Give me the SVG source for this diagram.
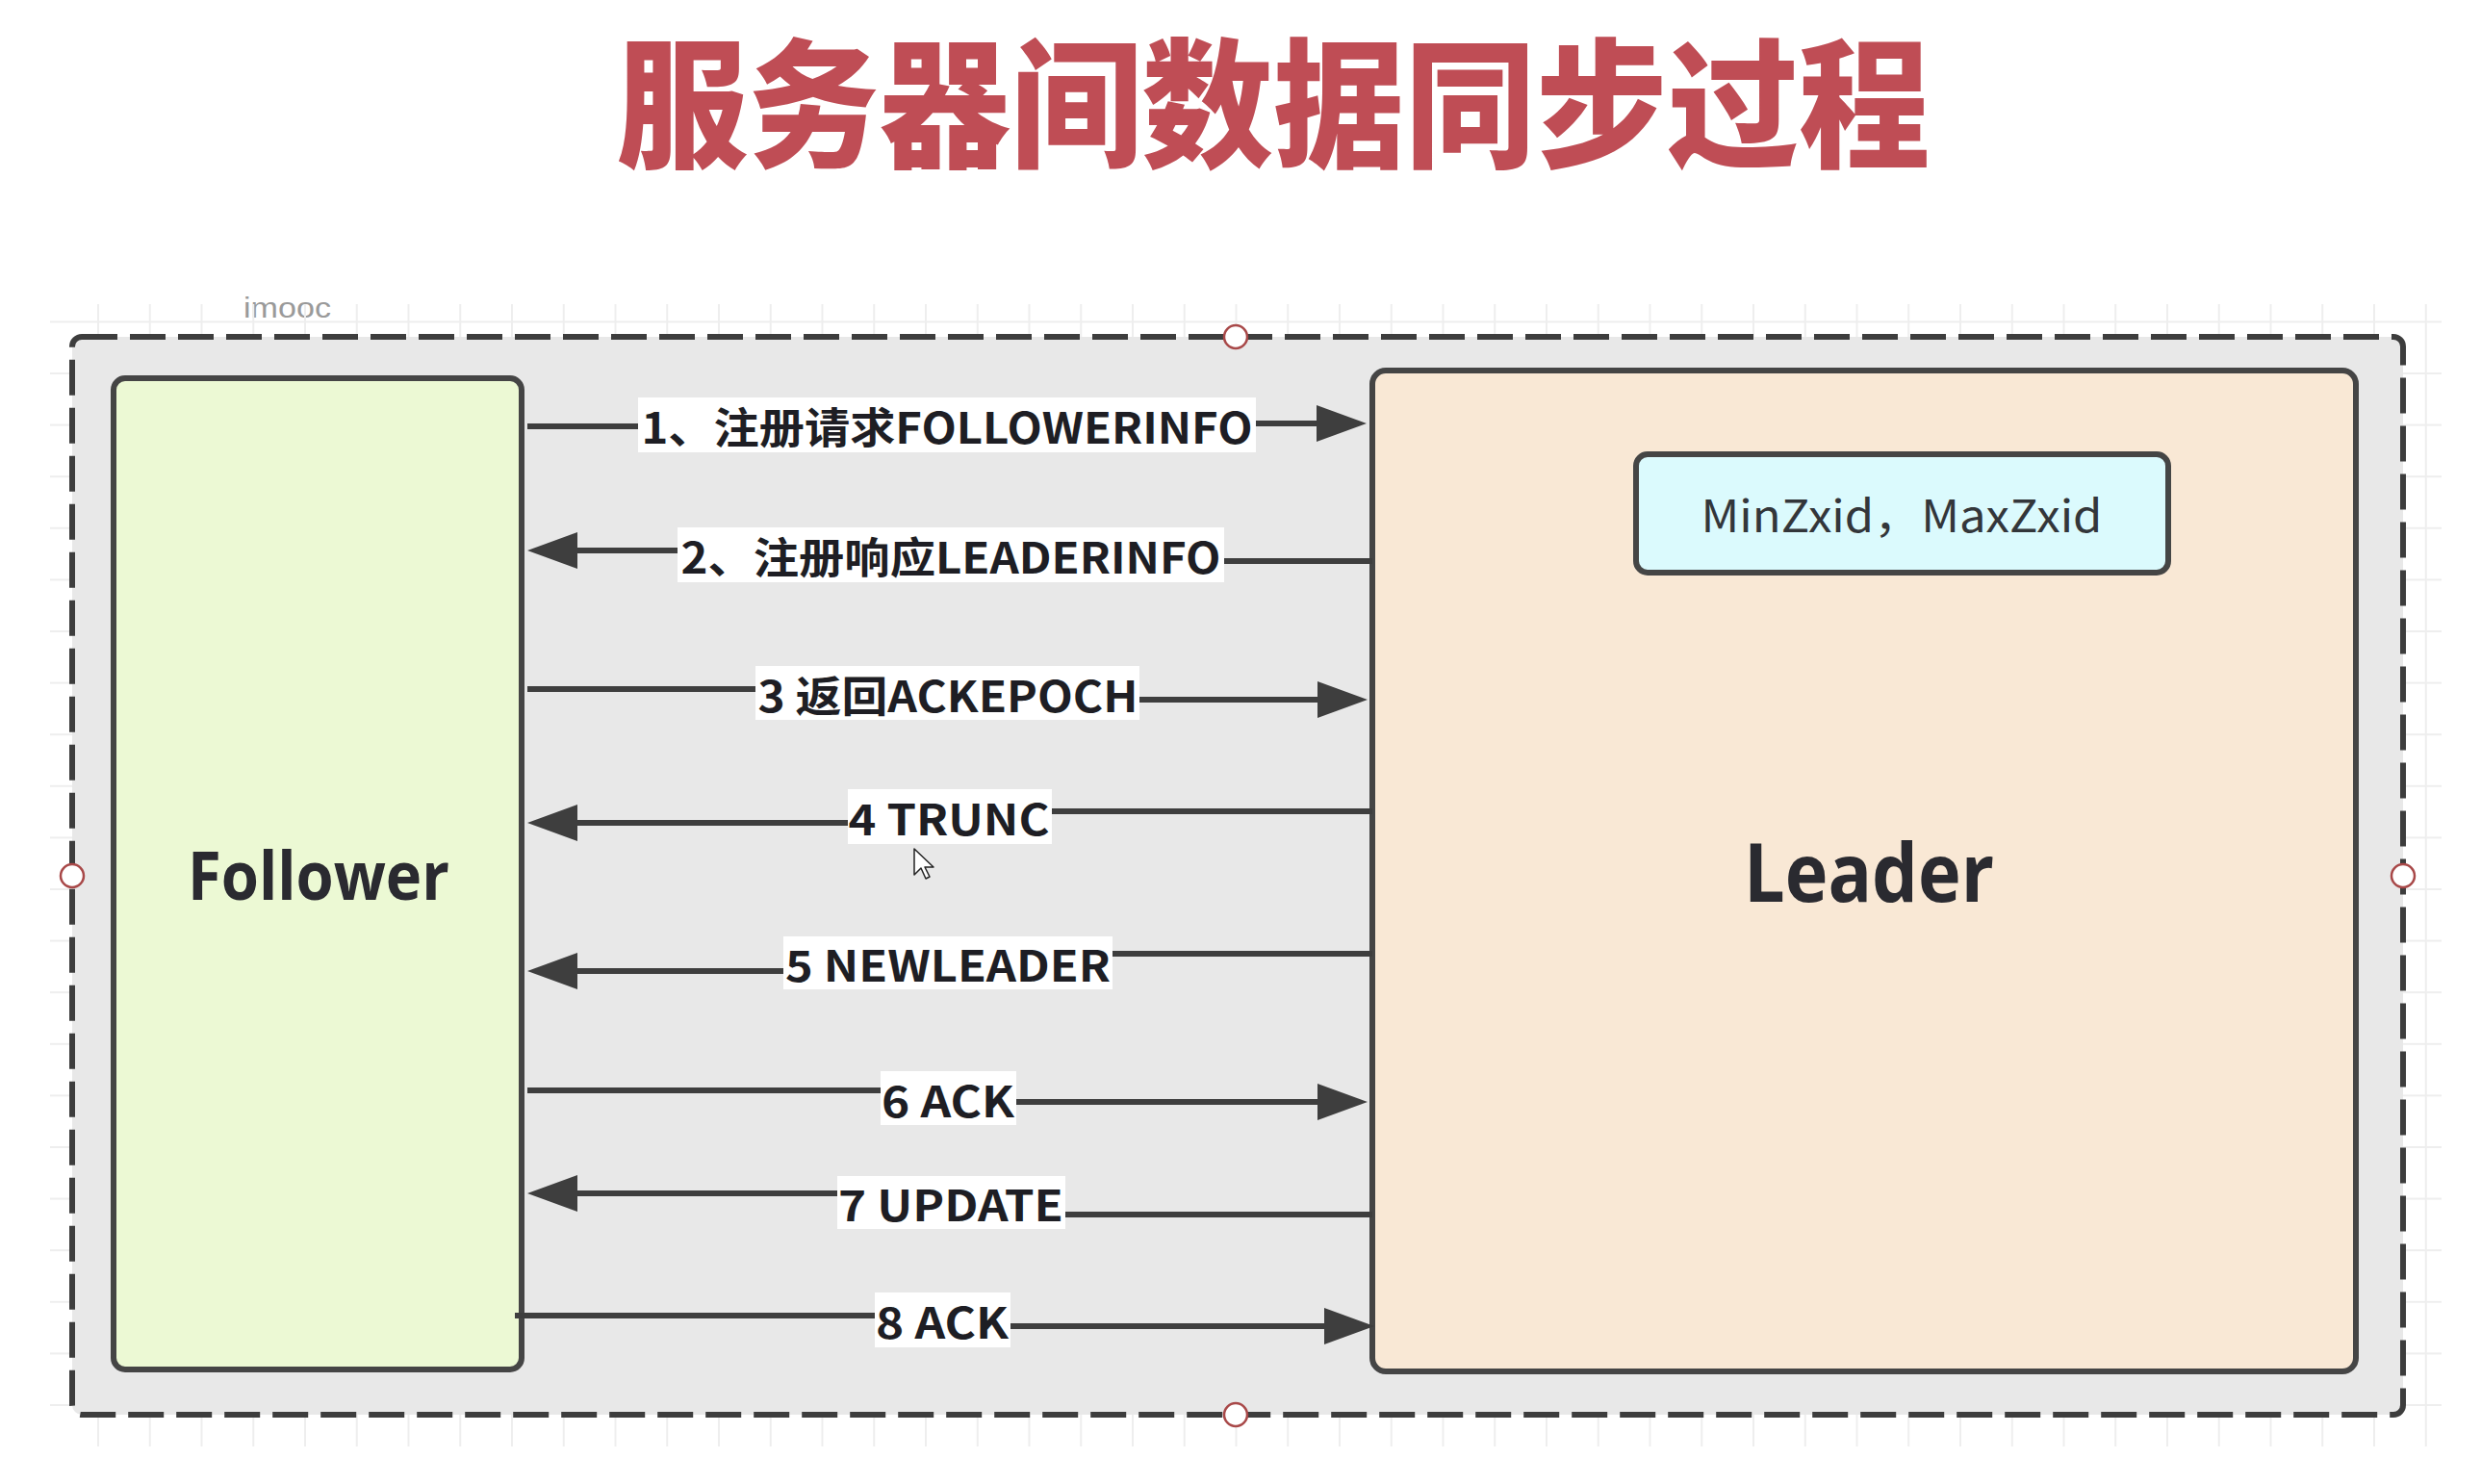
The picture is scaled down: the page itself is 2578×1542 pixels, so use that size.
<svg xmlns="http://www.w3.org/2000/svg" width="2578" height="1542" viewBox="0 0 2578 1542">
  <style>
    .lbl { font-family: "Noto Sans CJK SC", "Liberation Sans", sans-serif; font-weight: 700; font-size: 44px; fill: #1e1e24; text-anchor: middle; }
    .lblbg { fill: #ffffff; }
    .conn { fill: none; stroke: #3e3e3e; stroke-width: 6; marker-end: url(#ah); }
    .node { stroke: #454545; stroke-width: 6; }
    .handle { fill: #ffffff; stroke: #a84848; stroke-width: 2.5; }
  </style>
  <defs>
    <marker id="ah" markerUnits="userSpaceOnUse" markerWidth="54" markerHeight="40" refX="0" refY="19" orient="auto">
      <path d="M0,0 L52,19 L0,38 Z" fill="#3e3e3e"/>
    </marker>
    <pattern id="grid" patternUnits="userSpaceOnUse" x="101" y="333.4" width="53.75" height="53.6">
      <path d="M1,0 V53.6 M0,1 H53.75" stroke="#eeeeee" stroke-width="2" fill="none"/>
    </pattern>
  </defs>

  <rect x="0" y="0" width="2578" height="1542" fill="#ffffff"/>

  <g id="title">
    <text x="1323" y="163" font-family="'Noto Sans CJK SC', sans-serif" font-weight="900" font-size="145" fill="#bf4d55" text-anchor="middle" textLength="1365" lengthAdjust="spacingAndGlyphs">服务器间数据同步过程</text>
  </g>

  <g id="watermark">
    <text x="253" y="330" font-family="'Liberation Sans', sans-serif" font-size="30" fill="#9a9a9a" textLength="91" lengthAdjust="spacingAndGlyphs">imooc</text>
  </g>

  <rect x="52" y="316" width="2485" height="1187" fill="url(#grid)"/>

  <g id="container">
    <rect x="75" y="350" width="2422" height="1120" rx="10" fill="#e8e8e8" stroke="#3d3d3d" stroke-width="6" stroke-dasharray="37 13"/>
    <circle class="handle" cx="1284" cy="350" r="12"/>
    <circle class="handle" cx="1284" cy="1470" r="12"/>
    <circle class="handle" cx="75" cy="910" r="12"/>
    <circle class="handle" cx="2497" cy="910" r="12"/>
  </g>

  <g id="follower">
    <rect class="node" x="118" y="393" width="424" height="1030" rx="12" fill="#ecf9d4"/>
    <text x="331" y="935" font-family="'Open Sans', 'Noto Sans', sans-serif" font-weight="700" font-size="70" fill="#2a2a30" text-anchor="middle" textLength="272" lengthAdjust="spacingAndGlyphs">Follower</text>
  </g>

  <g id="leader">
    <rect class="node" x="1426" y="385" width="1022" height="1040" rx="14" fill="#f9e8d5"/>
    <text x="1942" y="937" font-family="'Open Sans', 'Noto Sans', sans-serif" font-weight="700" font-size="84" fill="#2a2a30" text-anchor="middle" textLength="260" lengthAdjust="spacingAndGlyphs">Leader</text>
  </g>

  <g id="zxid">
    <rect class="node" x="1700" y="472" width="553" height="123" rx="12" fill="#dbfafd"/>
    <text x="1976" y="553" font-family="'Noto Sans CJK SC', sans-serif" font-weight="400" font-size="46" fill="#33363a" text-anchor="middle" textLength="417" lengthAdjust="spacingAndGlyphs">MinZxid，MaxZxid</text>
  </g>

  <g id="connectors">
    <path class="conn" d="M548,443 H984 V440 H1368"/>
    <path class="conn" d="M1426,583 H987 V572 H600"/>
    <path class="conn" d="M548,716 H985 V727 H1369"/>
    <path class="conn" d="M1426,843 H986 V855 H600"/>
    <path class="conn" d="M1426,991 H985 V1009 H600"/>
    <path class="conn" d="M548,1133 H985 V1145 H1369"/>
    <path class="conn" d="M1426,1262 H988 V1240 H600"/>
    <path class="conn" d="M535,1367 H979 V1378 H1376"/>

    <rect class="lblbg" x="663" y="413" width="642" height="57"/>
    <text class="lbl" x="984" y="461" textLength="635" lengthAdjust="spacingAndGlyphs">1、注册请求FOLLOWERINFO</text>
    <rect class="lblbg" x="704" y="548" width="568" height="57"/>
    <text class="lbl" x="988" y="596" textLength="561" lengthAdjust="spacingAndGlyphs">2、注册响应LEADERINFO</text>
    <rect class="lblbg" x="785" y="692" width="399" height="56"/>
    <text class="lbl" x="985" y="740" textLength="395" lengthAdjust="spacingAndGlyphs">3 返回ACKEPOCH</text>
    <rect class="lblbg" x="881" y="820" width="212" height="57"/>
    <text class="lbl" x="986" y="868" textLength="209" lengthAdjust="spacingAndGlyphs">4 TRUNC</text>
    <rect class="lblbg" x="814" y="973" width="342" height="55"/>
    <text class="lbl" x="985" y="1020" textLength="338" lengthAdjust="spacingAndGlyphs">5 NEWLEADER</text>
    <rect class="lblbg" x="915" y="1113" width="141" height="56"/>
    <text class="lbl" x="985" y="1161" textLength="138" lengthAdjust="spacingAndGlyphs">6 ACK</text>
    <rect class="lblbg" x="870" y="1222" width="237" height="55"/>
    <text class="lbl" x="988" y="1269" textLength="234" lengthAdjust="spacingAndGlyphs">7 UPDATE</text>
    <rect class="lblbg" x="909" y="1343" width="141" height="57"/>
    <text class="lbl" x="979" y="1391" textLength="138" lengthAdjust="spacingAndGlyphs">8 ACK</text>
  </g>

  <path d="M950,882 L950,909 L957,902 L962,913 L966,911 L961,901 L970,901 Z" fill="#ffffff" stroke="#222222" stroke-width="1.5" stroke-linejoin="round"/>
</svg>
